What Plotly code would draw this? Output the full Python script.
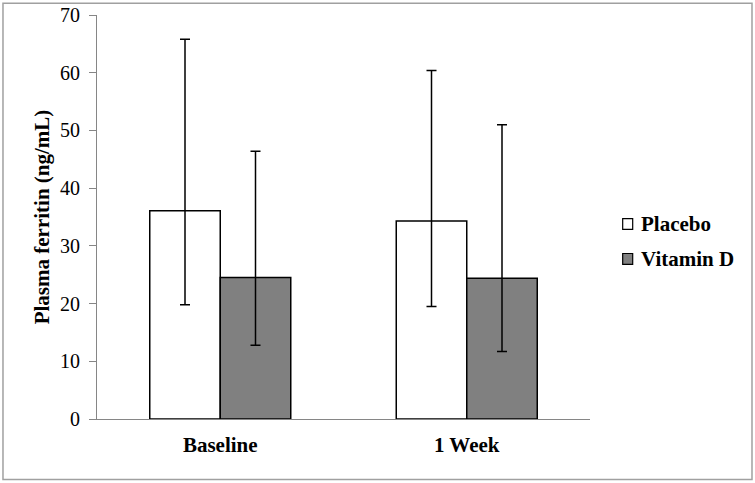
import plotly.graph_objects as go

categories = ["Baseline", "1 Week"]
placebo = [36.1, 34.3]
placebo_hi = [65.8, 60.4]
placebo_lo = [19.8, 19.5]
vitd = [24.5, 24.4]
vitd_hi = [46.4, 51.0]
vitd_lo = [12.8, 11.7]
series_names = ["Placebo", "Vitamin D"]
series_colors = ["white", "#808080"]

FONT = "Liberation Serif"

def err(vals, hi, lo):
    return dict(type="data", symmetric=False,
                array=[h - v for h, v in zip(hi, vals)],
                arrayminus=[v - l for v, l in zip(vals, lo)],
                color="black", thickness=1.5, width=5)

fig = go.Figure()
fig.add_trace(go.Bar(name=series_names[0], x=categories, y=placebo,
                     marker=dict(color=series_colors[0], line=dict(color="black", width=1.5)),
                     error_y=err(placebo, placebo_hi, placebo_lo)))
fig.add_trace(go.Bar(name=series_names[1], x=categories, y=vitd,
                     marker=dict(color=series_colors[1], line=dict(color="black", width=1.5)),
                     error_y=err(vitd, vitd_hi, vitd_lo)))

# manual legend (square + text)
shapes = [dict(type="rect", xref="paper", yref="paper",
               x0=-0.1907, x1=1.3286, y0=-0.150, y1=1.029,
               line=dict(color="#a0a0a0", width=1.5), layer="below")]
annotations = []
leg_y = [0.4827, 0.3962]
for name, col, yc in zip(series_names, series_colors, leg_y):
    shapes.append(dict(type="rect", xref="paper", yref="paper",
                       x0=1.0663, x1=1.0866, y0=yc - 0.0135, y1=yc + 0.0135,
                       fillcolor=col, line=dict(color="black", width=1.2)))
    annotations.append(dict(xref="paper", yref="paper", x=1.0994, y=yc,
                            xanchor="left", yanchor="middle", showarrow=False,
                            text="<b>%s</b>" % name,
                            font=dict(family=FONT, size=21, color="black")))

fig.update_layout(
    template="none",
    width=755, height=483,
    margin=dict(l=97, r=165, t=15, b=64, autoexpand=False),
    paper_bgcolor="white", plot_bgcolor="white",
    barmode="group", bargap=0.428, bargroupgap=0,
    font=dict(family=FONT, size=20, color="black"),
    showlegend=False,
    xaxis=dict(showline=True, linecolor="#868686", linewidth=1, ticks="",
               showgrid=False, automargin=False, ticklabelstandoff=7,
               tickfont=dict(family=FONT, size=21, color="black", weight="bold")),
    yaxis=dict(range=[0, 70], dtick=10, showgrid=False, showline=True,
               linecolor="#868686", linewidth=1, ticks="outside", ticklen=7,
               tickcolor="#868686", zeroline=False, automargin=False,
               ticklabelstandoff=5,
               tickfont=dict(family=FONT, size=20, color="black"),
               title=dict(text="Plasma ferritin (ng/mL)", standoff=4,
                          font=dict(family=FONT, size=21, color="black", weight="bold"))),
    shapes=shapes,
    annotations=annotations,
)

fig.write_html("out.html", config={"displayModeBar": False},
               post_script="document.body.style.margin='0';")
